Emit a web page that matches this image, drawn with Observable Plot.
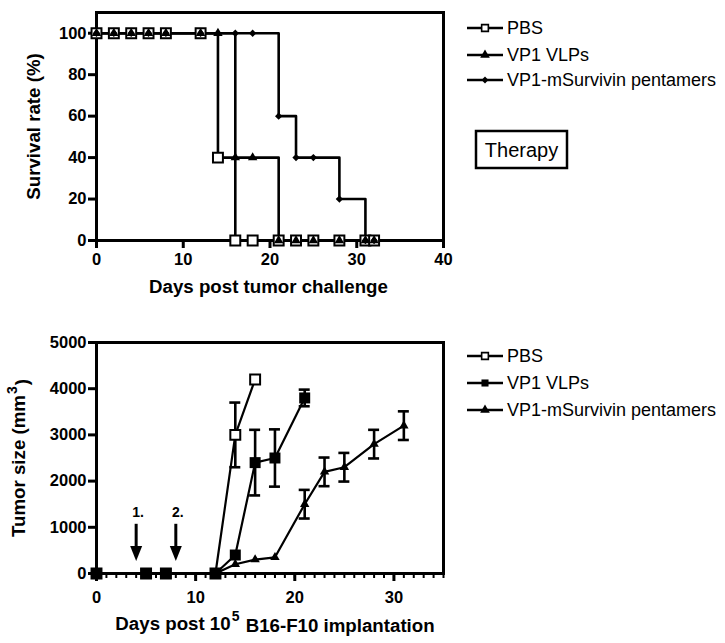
<!DOCTYPE html>
<html><head><meta charset="utf-8">
<script src="https://cdn.jsdelivr.net/npm/d3@7"></script>
<script src="https://cdn.jsdelivr.net/npm/@observablehq/plot@0.6"></script>
<style>
body{margin:0;background:#fff;}
#chart{position:relative;width:725px;height:643px;font-family:"Liberation Sans",Arial,sans-serif;background:#fff;}
#chart svg{display:block;}
</style></head><body><div id="chart"></div>
<script>
// ---------- Top panel: survival (Therapy) ----------
const survivalDays = [0, 2, 4, 6, 8, 12, 14, 16, 18, 21, 23, 25, 28, 31, 32];
const survivalPBS  = [100, 100, 100, 100, 100, 100, 40, 0, 0, 0, 0, 0, 0, 0, 0];
const survivalVLP  = [100, 100, 100, 100, 100, 100, 100, 40, 40, 0, 0, 0, 0, 0, 0];
const survivalPent = [100, 100, 100, 100, 100, 100, 100, 100, 100, 60, 40, 40, 20, 0, 0];
const survivalXTicks = [0, 10, 20, 30, 40];
const survivalYTicks = [0, 20, 40, 60, 80, 100];
const survivalNames = ["PBS", "VP1 VLPs", "VP1-mSurvivin pentamers"];
const survivalXLabel = "Days post tumor challenge";
const survivalYLabel = "Survival rate (%)";
const boxLabel = "Therapy";

// ---------- Bottom panel: tumor size ----------
const pbsDays  = [0, 5, 7, 12, 14, 16];
const pbsSize  = [0, 0, 0, 0, 3000, 4200];
const pbsErr   = [0, 0, 0, 0, 700, 0];
const vlpDays  = [0, 5, 7, 12, 14, 16, 18, 21];
const vlpSize  = [0, 0, 0, 0, 400, 2400, 2500, 3800];
const vlpErr   = [0, 0, 0, 0, 0, 710, 620, 180];
const pentDays = [0, 5, 7, 12, 14, 16, 18, 21, 23, 25, 28, 31];
const pentSize = [0, 0, 0, 0, 200, 300, 350, 1500, 2200, 2300, 2800, 3200];
const pentErr  = [0, 0, 0, 0, 0, 0, 0, 310, 310, 310, 310, 310];
const tumorXTicks = [0, 10, 20, 30];
const tumorMinorTicks = d3.range(0, 36);
const tumorYTicks = [0, 1000, 2000, 3000, 4000, 5000];
const tumorNames = ["PBS", "VP1 VLPs", "VP1-mSurvivin pentamers"];
// labels with a superscript part: [before, superscript, after]
const tumorXLabelParts = ["Days post 10", "5", " B16-F10 implantation"];
const tumorYLabelParts = ["Tumor size (mm", "3", ")"];
const arrowDays   = [4, 8];
const arrowLabels = ["1.", "2."];
const arrowTop    = [1065, 1065];
const arrowTip    = [272, 272];
const arrowLabelY = [1317, 1317];

const FONT = '"Liberation Sans", Arial, sans-serif';
const TITLE = 18.7, TICK = 16.5;
const rows = (xs, ys, es) => xs.map((x, i) => ({day: x, v: ys[i], e: es ? es[i] : 0}));

const sPBS = rows(survivalDays, survivalPBS);
const sVLP = rows(survivalDays, survivalVLP);
const sPent = rows(survivalDays, survivalPent);

const arrowHead = {draw(ctx) { ctx.moveTo(-6, -15); ctx.lineTo(6, -15); ctx.lineTo(0, 0); ctx.closePath(); }};

const topChart = Plot.plot({
  width: 725, height: 320,
  marginTop: 12, marginBottom: 80, marginLeft: 96, marginRight: 282,
  x: {domain: [0, 40]},
  y: {domain: [0, 110]},
  style: {fontFamily: FONT, color: "#000", background: "#fff", overflow: "visible"},
  marks: [
    Plot.axisX({ticks: survivalXTicks, tickSize: 8, tickPadding: 5, fontSize: TICK, fontWeight: "bold", label: null, strokeWidth: 3}),
    Plot.axisY({ticks: survivalYTicks, tickSize: 8, tickPadding: 2, fontSize: TICK, fontWeight: "bold", label: null, strokeWidth: 3}),
    Plot.line(sPBS, {x: "day", y: "v", curve: "step-after", strokeWidth: 2.6}),
    Plot.line(sVLP, {x: "day", y: "v", curve: "step-after", strokeWidth: 2.6}),
    Plot.line(sPent, {x: "day", y: "v", curve: "step-after", strokeWidth: 2.6}),
    Plot.frame({strokeWidth: 3}),
    Plot.dot(sPBS, {x: "day", y: "v", symbol: "square", r: 5.6, fill: "white", stroke: "black", strokeWidth: 2}),
    Plot.dot(sVLP, {x: "day", y: "v", symbol: "triangle", r: 3.5, fill: "black"}),
    Plot.dot(sPent, {x: "day", y: "v", symbol: "diamond2", r: 3.3, fill: "black"}),
    Plot.text([survivalXLabel], {text: d => d, frameAnchor: "bottom", textAnchor: "middle", dy: 52, dx: -1.5, fontSize: TITLE, fontWeight: "bold"}),
    Plot.text([survivalYLabel], {text: d => d, frameAnchor: "left", textAnchor: "middle", rotate: -90, dx: -62, fontSize: TITLE, fontWeight: "bold"})
  ]
});

const tPBS = rows(pbsDays, pbsSize, pbsErr);
const tVLP = rows(vlpDays, vlpSize, vlpErr);
const tPent = rows(pentDays, pentSize, pentErr);
const errRows = [...tPBS, ...tVLP, ...tPent].filter(d => d.e > 0);
const arrows = arrowDays.map((d, i) => ({day: d, label: arrowLabels[i], top: arrowTop[i], tip: arrowTip[i], ly: arrowLabelY[i]}));
const tumorXLabel = tumorXLabelParts.join("");
const tumorYLabel = tumorYLabelParts.join("");

const bottomChart = Plot.plot({
  width: 725, height: 323,
  marginTop: 22, marginBottom: 70, marginLeft: 96, marginRight: 282,
  x: {domain: [0, 35]},
  y: {domain: [0, 5000]},
  style: {fontFamily: FONT, color: "#000", background: "#fff", overflow: "visible"},
  marks: [
    Plot.axisX({ticks: tumorMinorTicks, tickSize: 5, tickFormat: () => "", label: null, strokeWidth: 2}),
    Plot.axisX({ticks: tumorXTicks, tickSize: 8, tickPadding: 10, fontSize: TICK, fontWeight: "bold", label: null, strokeWidth: 3}),
    Plot.axisY({ticks: tumorYTicks, tickSize: 8, tickPadding: 2, tickFormat: d => String(d), fontSize: TICK, fontWeight: "bold", label: null, strokeWidth: 3}),
    Plot.frame({strokeWidth: 3}),
    Plot.ruleX(errRows, {x: "day", y1: d => d.v - d.e, y2: d => d.v + d.e, strokeWidth: 2.6}),
    Plot.ruleY(errRows, {x1: "day", x2: "day", y: d => d.v + d.e, insetLeft: -5.5, insetRight: -5.5, strokeWidth: 2.6}),
    Plot.ruleY(errRows, {x1: "day", x2: "day", y: d => d.v - d.e, insetLeft: -5.5, insetRight: -5.5, strokeWidth: 2.6}),
    Plot.line(tPBS, {x: "day", y: "v", strokeWidth: 2.2}),
    Plot.line(tVLP, {x: "day", y: "v", strokeWidth: 2.2}),
    Plot.line(tPent, {x: "day", y: "v", strokeWidth: 2.2}),
    Plot.dot(tPBS, {x: "day", y: "v", symbol: "square", r: 5.6, fill: "white", stroke: "black", strokeWidth: 2}),
    Plot.dot(tVLP, {x: "day", y: "v", symbol: "square", r: 6.2, fill: "black"}),
    Plot.dot(tPent, {x: "day", y: "v", symbol: "triangle", r: 3.5, fill: "black"}),
    Plot.ruleX(arrows, {x: "day", y1: "top", y2: "tip", strokeWidth: 3, insetBottom: 8}),
    Plot.dot(arrows, {x: "day", y: "tip", symbol: arrowHead, r: 5, fill: "black"}),
    Plot.text(arrows, {x: "day", y: "ly", text: "label", dx: 2, fontSize: 14, fontWeight: "bold"}),
    Plot.text([tumorXLabel], {text: d => d, frameAnchor: "bottom", textAnchor: "middle", dy: 56, dx: 5, fontSize: TITLE, fontWeight: "bold"}),
    Plot.text([tumorYLabel], {text: d => d, frameAnchor: "left", textAnchor: "middle", rotate: -90, dx: -77, fontSize: TITLE, fontWeight: "bold"})
  ]
});

// turn the plain labels into before / superscript / after tspans
function superscript(svg, full, parts) {
  d3.select(svg).selectAll("text").filter(function () { return this.textContent === full; })
    .each(function () {
      const t = d3.select(this);
      t.text(null);
      t.append("tspan").text(parts[0]);
      t.append("tspan").attr("font-size", 14).attr("dy", "-0.6em").attr("dx", "1").text(parts[1]);
      t.append("tspan").attr("dy", "0.6em").attr("dx", "1").text(parts[2]);
    });
}
superscript(bottomChart, tumorXLabel, tumorXLabelParts);
superscript(bottomChart, tumorYLabel, tumorYLabelParts);

function legend(svg, items, ys) {
  const g = d3.select(svg).append("g").attr("font-family", FONT).attr("font-size", 18).attr("text-anchor", "start");
  items.forEach((it, i) => {
    const y = ys[i];
    g.append("line").attr("x1", 467).attr("x2", 503).attr("y1", y).attr("y2", y)
      .attr("stroke", "black").attr("stroke-width", 2.6);
    g.append("path").attr("transform", `translate(485,${y})`)
      .attr("d", d3.symbol(it.symbol, it.size)())
      .attr("fill", it.fill).attr("stroke", it.stroke || "none").attr("stroke-width", 1.6);
    g.append("text").attr("x", 507).attr("y", y).attr("dy", "0.36em").attr("text-anchor", "start").text(it.name);
  });
}

legend(topChart, [
  {name: survivalNames[0], symbol: d3.symbolSquare, size: 45, fill: "white", stroke: "black"},
  {name: survivalNames[1], symbol: d3.symbolTriangle, size: 40, fill: "black"},
  {name: survivalNames[2], symbol: d3.symbolDiamond2, size: 30, fill: "black"}
], [28, 55, 80]);

const tg = d3.select(topChart).append("g");
tg.append("rect").attr("x", 476).attr("y", 131).attr("width", 91).attr("height", 37)
  .attr("fill", "none").attr("stroke", "black").attr("stroke-width", 2.5);
tg.append("text").attr("x", 521.5).attr("y", 150).attr("dy", "0.36em").attr("text-anchor", "middle")
  .attr("font-family", FONT).attr("font-size", 20).text(boxLabel);

legend(bottomChart, [
  {name: tumorNames[0], symbol: d3.symbolSquare, size: 45, fill: "white", stroke: "black"},
  {name: tumorNames[1], symbol: d3.symbolSquare, size: 50, fill: "black"},
  {name: tumorNames[2], symbol: d3.symbolTriangle, size: 40, fill: "black"}
], [36, 63, 90]);

const chart = document.getElementById("chart");
chart.appendChild(topChart);
chart.appendChild(bottomChart);
</script></body></html>
